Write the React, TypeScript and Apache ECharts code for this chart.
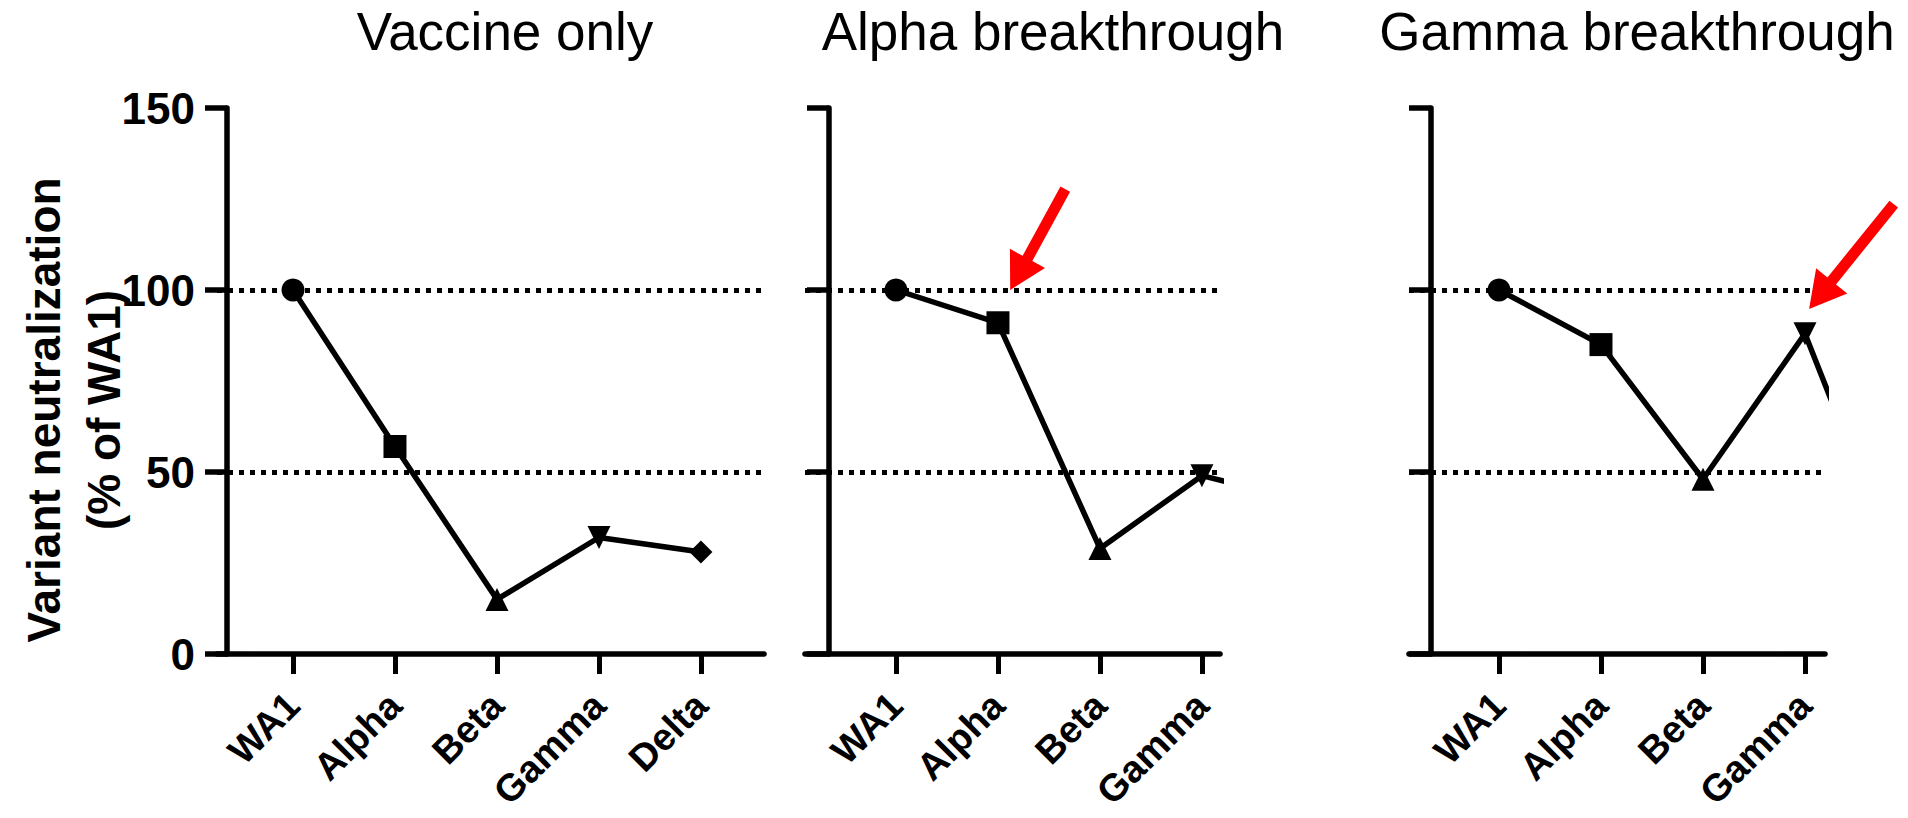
import React, { useEffect, useRef } from 'react';
import * as echarts from 'echarts';

// Neutralization of each variant, as % of WA1, per cohort
const variants = ['WA1', 'Alpha', 'Beta', 'Gamma', 'Delta'];
const vaccineOnly = [100, 57, 15, 32, 28];
const alphaBreakthrough = [100, 91, 29, 49, 42];
const gammaBreakthrough = [100, 85, 48, 88, 17];
const panelTitles = ['Vaccine only', 'Alpha breakthrough', 'Gamma breakthrough'];
const yTicks = [0, 50, 100, 150];
const referenceLines = [100, 50];
const markerShapes = ['circle', 'rect', 'triangle', 'triangle', 'diamond'];
const markerRotations = [0, 0, 0, 180, 0];
const yAxisTitle = 'Variant neutralization\n(% of WA1)';

// Arrow annotations in data space: [tailX, tailY, tipX, tipY]
const arrowAnchors: (number[] | null)[] = [null, [1.66, 127.7, 1.12, 100], [3.87, 123.6, 3.04, 94.8]];

const FONT = "'Liberation Sans', Arial, Helvetica, sans-serif";

// Panel frames (pixels) and the visible x-range of each panel
const panels = [
  { values: vaccineOnly, left: 217, width: 547, xMin: -0.745, xMax: 4.618, shift: -10, shown: 5, titleX: 505 },
  { values: alphaBreakthrough, left: 805, width: 415, xMin: -0.892, xMax: 3.177, shift: -24, shown: 4, titleX: 1053 },
  { values: gammaBreakthrough, left: 1409, width: 416, xMin: -0.882, xMax: 3.196, shift: -22, shown: 4, titleX: 1637 },
];

const GRID_TOP = 108;
const GRID_HEIGHT = 546;

function arrowPoints(tail: number[], tip: number[]) {
  const dx = tail[0] - tip[0];
  const dy = tail[1] - tip[1];
  const len = Math.hypot(dx, dy);
  const ux = dx / len;
  const uy = dy / len;
  const px = -uy;
  const py = ux;
  const headLen = 36;
  const headHalf = 20;
  const shaftHalf = 5.5;
  const bx = tip[0] + ux * headLen;
  const by = tip[1] + uy * headLen;
  return [
    [tip[0], tip[1]],
    [bx + px * headHalf, by + py * headHalf],
    [bx + px * shaftHalf, by + py * shaftHalf],
    [tail[0] + px * shaftHalf, tail[1] + py * shaftHalf],
    [tail[0] - px * shaftHalf, tail[1] - py * shaftHalf],
    [bx - px * shaftHalf, by - py * shaftHalf],
    [bx - px * headHalf, by - py * headHalf],
  ];
}

export default function App() {
  const ref = useRef<HTMLDivElement>(null);

  useEffect(() => {
    document.body.style.margin = '0';
    if (!ref.current) return;
    const chart = echarts.init(ref.current, undefined, { renderer: 'svg' });

    const grids = panels.map((p) => ({
      left: p.left,
      top: GRID_TOP,
      width: p.width,
      height: GRID_HEIGHT,
      containLabel: false,
      outerBoundsMode: 'none',
    }));

    const xAxes = panels.map((p, i) => {
      const ticks = variants.slice(0, p.shown).map((_, k) => k);
      return {
        type: 'value',
        gridIndex: i,
        min: p.xMin,
        max: p.xMax,
        splitLine: { show: false },
        axisLine: { show: true, onZero: false, lineStyle: { color: '#000', width: 5.5 } },
        axisTick: { show: true, length: 20, customValues: ticks, lineStyle: { color: '#000', width: 5 } },
        axisLabel: {
          show: true,
          customValues: ticks,
          formatter: (v: number) => variants[Math.round(v)] ?? '',
          rotate: 45,
          margin: 45,
          color: '#000',
          fontSize: 38,
          fontWeight: 'bold',
          fontFamily: FONT,
        },
      };
    });

    const yAxes = panels.map((p, i) => ({
      type: 'value',
      gridIndex: i,
      min: yTicks[0],
      max: yTicks[yTicks.length - 1],
      interval: yTicks[1] - yTicks[0],
      offset: p.shift,
      splitLine: { show: false },
      axisLine: { show: true, onZero: false, lineStyle: { color: '#000', width: 5.5 } },
      axisTick: { show: true, length: 22, lineStyle: { color: '#000', width: 5.5 } },
      axisLabel: {
        show: i === 0,
        margin: 32,
        color: '#000',
        fontSize: 44,
        fontWeight: 'bold',
        fontFamily: FONT,
      },
    }));

    const series = panels.map((p, i) => ({
      type: 'line',
      xAxisIndex: i,
      yAxisIndex: i,
      clip: true,
      symbolSize: 23,
      data: p.values.map((v, k) => ({
        value: [k, v],
        symbol: markerShapes[k],
        symbolRotate: markerRotations[k],
      })),
      lineStyle: { color: '#000', width: 5.5 },
      itemStyle: { color: '#000' },
      z: 3,
      markLine: {
        silent: true,
        symbol: 'none',
        label: { show: false },
        lineStyle: { color: '#000', width: 5, type: [5, 6] },
        data: referenceLines.map((r) => ({ yAxis: r })),
        z: 2,
      },
    }));

    const titles = panels.map((p, i) => ({
      type: 'text',
      x: p.titleX,
      y: 31,
      style: {
        text: panelTitles[i],
        fontSize: 53,
        fontFamily: FONT,
        fill: '#000',
        align: 'center',
        verticalAlign: 'middle',
      },
    }));

    chart.setOption({
      animation: false,
      backgroundColor: '#fff',
      grid: grids,
      xAxis: xAxes,
      yAxis: yAxes,
      series,
      graphic: [
        ...titles,
        {
          type: 'text',
          x: 74,
          y: 410,
          rotation: Math.PI / 2,
          style: {
            text: yAxisTitle,
            fontSize: 46,
            fontWeight: 'bold',
            fontFamily: FONT,
            fill: '#000',
            align: 'center',
            verticalAlign: 'middle',
            lineHeight: 60,
          },
        },
      ],
    });

    // Red arrows pointing at the infecting variant
    const arrows: any[] = [];
    arrowAnchors.forEach((a, i) => {
      if (!a) return;
      const tail = chart.convertToPixel({ gridIndex: i }, [a[0], a[1]]) as number[];
      const tip = chart.convertToPixel({ gridIndex: i }, [a[2], a[3]]) as number[];
      arrows.push({
        type: 'polygon',
        shape: { points: arrowPoints(tail, tip) },
        style: { fill: '#ff0000' },
        z: 10,
      });
    });
    chart.setOption({ graphic: [...titles.map(() => ({})), {}, ...arrows] });

    return () => chart.dispose();
  }, []);

  return <div ref={ref} style={{ width: 1908, height: 818 }} />;
}
